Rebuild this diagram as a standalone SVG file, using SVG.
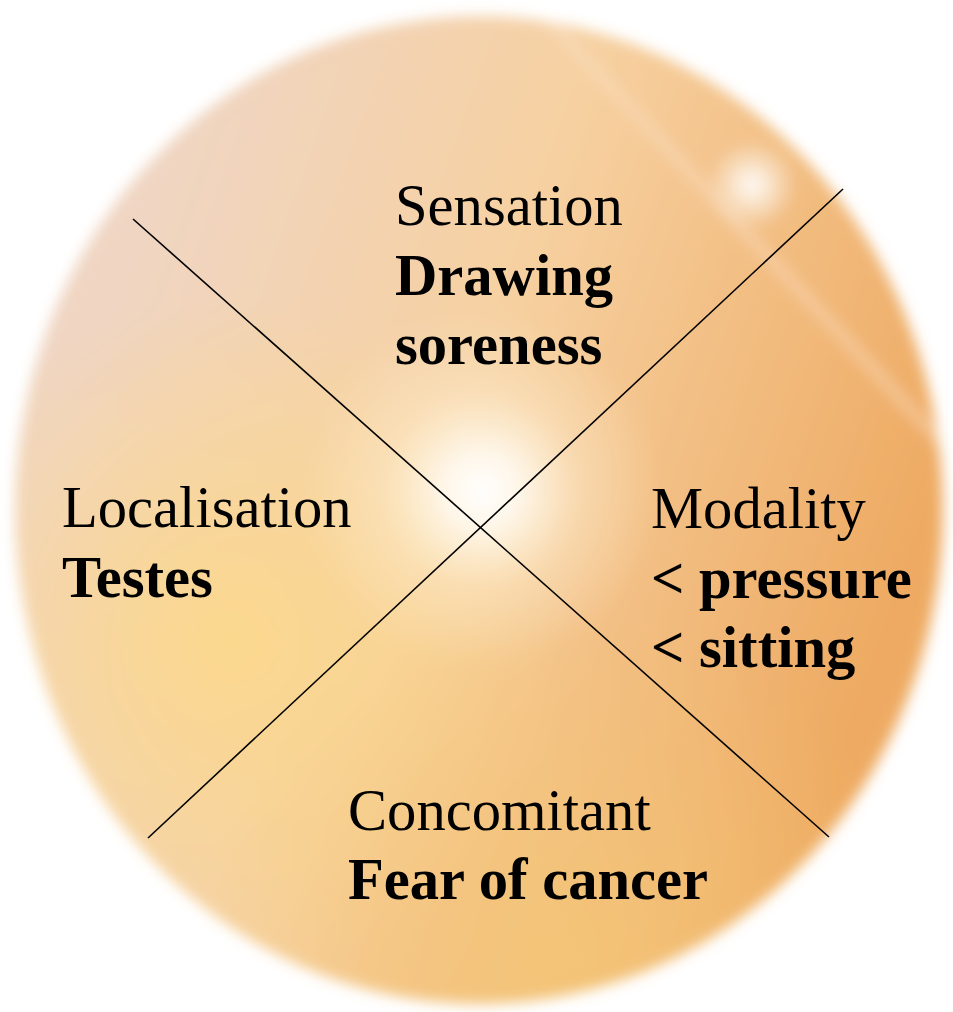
<svg xmlns="http://www.w3.org/2000/svg" width="953" height="1012" viewBox="0 0 953 1012">
<style>
.t{font-family:"Liberation Serif","Times New Roman",serif;font-size:58.6px;fill:#000}
.b{font-weight:bold}
.ln{stroke:#000;stroke-width:1.6;fill:none}
</style>
<defs>
<linearGradient id="base" x1="150" y1="200" x2="940" y2="480" gradientUnits="userSpaceOnUse">
<stop offset="0" stop-color="#f0d5c2"/>
<stop offset="0.45" stop-color="#f6d0a0"/>
<stop offset="1" stop-color="#eeaa62"/>
</linearGradient>
<radialGradient id="yel" cx="230" cy="640" r="340" gradientUnits="userSpaceOnUse">
<stop offset="0" stop-color="#fcd98a" stop-opacity="0.9"/>
<stop offset="1" stop-color="#fcd98a" stop-opacity="0"/>
</radialGradient>
<radialGradient id="bot" cx="560" cy="960" r="360" gradientUnits="userSpaceOnUse">
<stop offset="0" stop-color="#f4c677" stop-opacity="0.85"/>
<stop offset="1" stop-color="#f4c677" stop-opacity="0"/>
</radialGradient>
<radialGradient id="glow" cx="482" cy="490" r="180" gradientUnits="userSpaceOnUse">
<stop offset="0" stop-color="#ffffff" stop-opacity="1"/>
<stop offset="0.22" stop-color="#fffaf0" stop-opacity="0.9"/>
<stop offset="0.55" stop-color="#fff2d8" stop-opacity="0.4"/>
<stop offset="1" stop-color="#fff2d8" stop-opacity="0"/>
</radialGradient>
<radialGradient id="glint" cx="752" cy="185" r="45" gradientUnits="userSpaceOnUse">
<stop offset="0" stop-color="#ffffff" stop-opacity="0.95"/>
<stop offset="1" stop-color="#ffffff" stop-opacity="0"/>
</radialGradient>
<filter id="soft" x="-5%" y="-5%" width="110%" height="110%">
<feGaussianBlur stdDeviation="7"/>
</filter>
<filter id="blur2"><feGaussianBlur stdDeviation="3"/></filter>
<clipPath id="clip"><ellipse cx="479" cy="510" rx="464" ry="494"/></clipPath>
</defs>
<rect width="953" height="1012" fill="#ffffff"/>
<g id="background" filter="url(#soft)">
<ellipse cx="479" cy="510" rx="464" ry="494" fill="url(#base)"/>
<g clip-path="url(#clip)">
<rect width="953" height="1012" fill="url(#yel)"/>
<rect width="953" height="1012" fill="url(#bot)"/>
<line x1="530" y1="0" x2="953" y2="455" stroke="#fde3cc" stroke-width="7" opacity="0.7" filter="url(#blur2)"/>
<rect width="953" height="1012" fill="url(#glow)"/>
<rect width="953" height="1012" fill="url(#glint)"/>
</g>
</g>
<g id="connectors">
<line class="ln" x1="133" y1="219" x2="829" y2="837"/>
<line class="ln" x1="843" y1="189" x2="148" y2="838"/>
</g>
<g id="sensation">
<text class="t" x="395" y="225">Sensation</text>
<text class="t b" x="395" y="295">Drawing</text>
<text class="t b" x="395" y="364">soreness</text>
</g>
<g id="localisation">
<text class="t" x="62" y="527">Localisation</text>
<text class="t b" x="62" y="597">Testes</text>
</g>
<g id="modality">
<text class="t" x="651" y="528">Modality</text>
<text class="t b" x="651" y="598">&lt; pressure</text>
<text class="t b" x="651" y="667">&lt; sitting</text>
</g>
<g id="concomitant">
<text class="t" x="348" y="830">Concomitant</text>
<text class="t b" x="348" y="899">Fear of cancer</text>
</g>
</svg>
